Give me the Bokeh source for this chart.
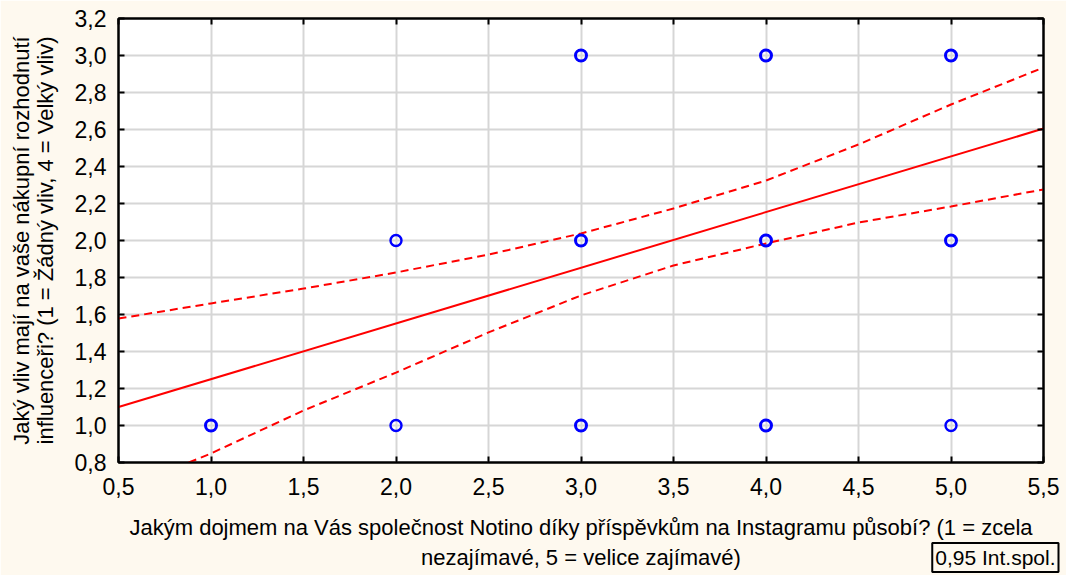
import math
from bokeh.plotting import figure
from bokeh.models import (Range1d, FixedTicker, CustomJSTickFormatter, LinearAxis, Label, Title)
from bokeh.embed import file_html
from bokeh.resources import INLINE

# observed data (obs_n: how many respondents share the point; overlapping points look bolder)
obs_x = [1, 2, 2, 3, 3, 3, 4, 4, 4, 5, 5, 5]
obs_y = [1, 1, 2, 1, 2, 3, 1, 2, 3, 1, 2, 3]
obs_n = [2, 1, 1, 2, 2, 2, 2, 2, 2, 1, 2, 2]

# fitted regression line (endpoints)
fit_x = [0.5, 5.5]
fit_y = [1.10, 2.605]

# 95% confidence band
upper_x = [0.5, 1.0, 1.5, 2.0, 2.5, 3.0, 3.5, 4.0, 4.5, 5.0, 5.5]
upper_y = [1.578, 1.66, 1.74, 1.827, 1.924, 2.038, 2.173, 2.324, 2.519, 2.735, 2.935]
lower_x = [0.88, 1.0, 1.5, 2.0, 2.5, 3.0, 3.5, 4.0, 4.5, 5.0, 5.5]
lower_y = [0.80, 0.849, 1.081, 1.286, 1.503, 1.703, 1.865, 1.984, 2.097, 2.184, 2.276]

x_ticks = [0.5, 1.0, 1.5, 2.0, 2.5, 3.0, 3.5, 4.0, 4.5, 5.0, 5.5]
y_ticks = [0.8, 1.0, 1.2, 1.4, 1.6, 1.8, 2.0, 2.2, 2.4, 2.6, 2.8, 3.0, 3.2]

x_label_lines = ["Jakým dojmem na Vás společnost Notino díky příspěvkům na Instagramu působí? (1 = zcela",
                 "nezajímavé, 5 = velice zajímavé)"]
y_label_lines = ["Jaký vliv mají na vaše nákupní rozhodnutí",
                 "influenceři? (1 = Žádný vliv, 4 = Velký vliv)"]
legend_text = "0,95 Int.spol."

BG = "#fef9ef"
FONT = "Liberation Sans"
W, H = 1066, 575

p = figure(width=W, height=H, output_backend="svg", toolbar_location=None,
           x_range=Range1d(0.5, 5.5), y_range=Range1d(0.8, 3.2),
           min_border_left=118, min_border_right=23, min_border_top=18, min_border_bottom=113)
p.background_fill_color = "white"
p.border_fill_color = BG
p.outline_line_color = "black"
p.outline_line_width = 2

fmt = CustomJSTickFormatter(code="return tick.toFixed(1).replace('.', ',');")
for ax, ticks in ((p.xaxis[0], x_ticks), (p.yaxis[0], y_ticks)):
    ax.ticker = FixedTicker(ticks=ticks)
    ax.formatter = fmt
    ax.major_tick_in = 6
    ax.major_tick_out = 0
    ax.minor_tick_line_color = None
    ax.axis_line_color = "black"
    ax.axis_line_width = 2
    ax.major_tick_line_width = 2
    ax.major_label_text_font = FONT
    ax.major_label_text_font_size = "23px"
    ax.major_label_text_color = "black"
    ax.axis_label_text_font = FONT
    ax.axis_label_text_font_size = "22px"
    ax.axis_label_text_font_style = "normal"
    ax.axis_label_text_color = "black"
p.xaxis[0].major_label_standoff = 15
p.yaxis[0].major_label_standoff = 12
p.yaxis[0].axis_label = "\n".join(y_label_lines)
p.yaxis[0].axis_label_standoff = 14
p.yaxis[0].axis_label_text_line_height = 0.95

blank = CustomJSTickFormatter(code="return '';")
for loc, ticks in (("above", x_ticks), ("right", y_ticks)):
    ax = LinearAxis(ticker=FixedTicker(ticks=ticks), formatter=blank, major_tick_in=6, major_tick_out=0,
                    major_tick_line_width=2, minor_tick_line_color=None,
                    axis_line_width=2, major_label_standoff=0)
    p.add_layout(ax, loc)

p.xgrid.ticker = FixedTicker(ticks=x_ticks)
p.ygrid.ticker = FixedTicker(ticks=y_ticks)
p.grid.grid_line_color = "#d6d6d6"
p.grid.grid_line_width = 2

p.line(fit_x, fit_y, line_color="#ff0000", line_width=2)
p.line(upper_x, upper_y, line_color="#ff0000", line_width=2, line_dash="8 5")
p.line(lower_x, lower_y, line_color="#ff0000", line_width=2, line_dash="8 5")
obs_w = [3.0 if n > 1 else 2.4 for n in obs_n]
p.scatter(obs_x, obs_y, marker="circle", size=11, fill_color=None, line_color="#0000ff",
          line_width=obs_w)

# x-axis title: two lines, placed in the lower border (data units map through the frame scales)
title_y = [0.4486, 0.2865]
for t, yy in zip(x_label_lines, title_y):
    p.add_layout(Label(x=3.0, y=yy, text=t, text_align="center", text_baseline="middle",
                       text_font=FONT, text_font_size="22px", text_color="black"), "below")

# confidence-interval box
p.add_layout(Title(text=legend_text, align="right", vertical_align="top", offset=-15, standoff=-9,
                   text_font=FONT, text_font_size="21px", text_font_style="normal", text_color="black",
                   border_line_color="black", border_line_width=2, background_fill_color=BG,
                   padding=3), "below")

open("out.html", "w").write(file_html(p, INLINE))
